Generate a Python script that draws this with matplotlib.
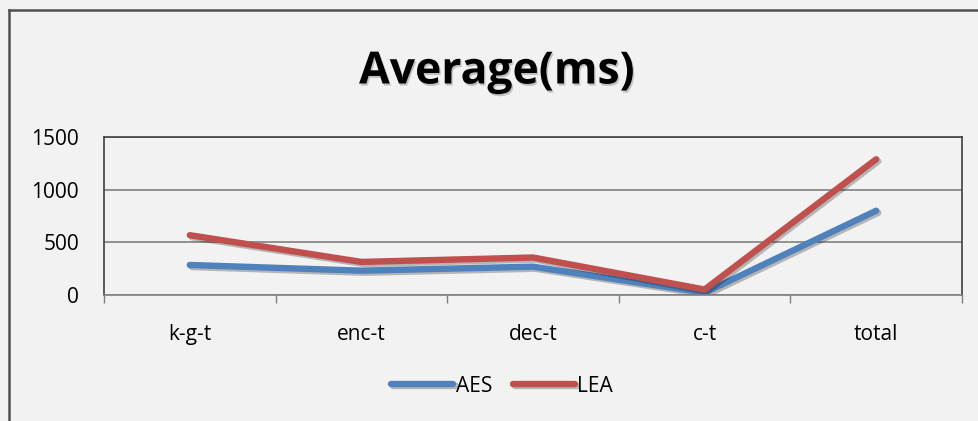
import matplotlib.pyplot as plt
import matplotlib.patheffects as pe
from matplotlib.lines import Line2D
import numpy as np

categories = ["k-g-t", "enc-t", "dec-t", "c-t", "total"]
aes_values = [285, 231, 269, 22, 800]
lea_values = [568, 314, 356, 52, 1289]

plt.rcParams["font.family"] = ["Open Sans", "DejaVu Sans"]

bg = "#F2F2F2"
fig = plt.figure(figsize=(9.79, 4.21), dpi=100, facecolor=bg)
ax = fig.add_axes([104 / 979, 1 - 295 / 421, (962 - 104) / 979, (295 - 137) / 421])
ax.set_facecolor(bg)

x = np.arange(len(categories))
shadow = [pe.SimpleLineShadow(offset=(1.5, -1.5), alpha=0.25, shadow_color="black"), pe.Normal()]
ax.plot(x, aes_values, color="#4F81BD", lw=4.6, solid_capstyle="round",
        solid_joinstyle="round", label="AES", path_effects=shadow)
ax.plot(x, lea_values, color="#C0504D", lw=4.6, solid_capstyle="round",
        solid_joinstyle="round", label="LEA", path_effects=shadow)

ax.set_xlim(-0.5, len(categories) - 0.5)
ax.set_ylim(0, 1500)
ax.set_yticks([0, 500, 1000, 1500])
ax.yaxis.grid(True, color="#808080", lw=1.2)
ax.set_axisbelow(True)
ax.tick_params(axis="y", length=0, pad=18, labelsize=15)
ax.set_xticks(x)
ax.set_xticklabels(categories)
ax.set_xticks(np.arange(-0.5, len(categories)), minor=True)
ax.tick_params(axis="x", which="major", length=0, pad=21, labelsize=15)
ax.tick_params(axis="x", which="minor", length=6, width=1, color="#808080")

for side in ["left", "right", "top"]:
    ax.spines[side].set_color("#404040")
    ax.spines[side].set_linewidth(1.2)
ax.spines["bottom"].set_color("#808080")
ax.spines["bottom"].set_linewidth(1.2)

fig.text(497 / 979, 1 - 72 / 421, "Average(ms)", ha="center", va="center",
         fontsize=32, fontweight="bold",
         path_effects=[pe.withSimplePatchShadow(offset=(1, -1.5), alpha=0.2)])

fig.legend(loc="center", bbox_to_anchor=(502 / 979, 1 - 386 / 421), ncol=2,
           frameon=False, fontsize=15, handlelength=3.0, handletextpad=0.1,
           columnspacing=1.0)

# outer chart border (left and top edges visible)
fig.add_artist(Line2D([9 / 979, 9 / 979], [0, 1 - 10 / 421], color="#505050", lw=1.8))
fig.add_artist(Line2D([9 / 979, 1], [1 - 10 / 421, 1 - 10 / 421], color="#505050", lw=1.8))

fig.savefig("out.png", dpi=100, facecolor=bg)
